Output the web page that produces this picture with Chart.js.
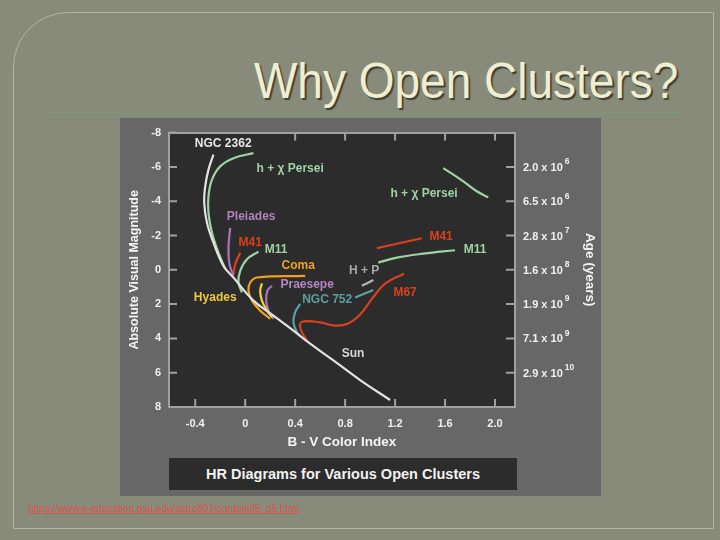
<!DOCTYPE html>
<html>
<head>
<meta charset="utf-8">
<script src="https://cdn.jsdelivr.net/npm/chart.js@4/dist/chart.umd.min.js"></script>
<style>
  body { margin: 0; width: 720px; height: 540px; background: #888b79; position: relative; overflow: hidden;
         font-family: "Liberation Sans", Arial, sans-serif; }
  #frame { position: absolute; left: 13px; top: 12px; width: 701px; height: 517px; box-sizing: border-box;
           border: 1px solid #b3b5a4; border-top-left-radius: 55px; }
  #title { position: absolute; right: 42px; top: 56px; font-size: 50px; line-height: 50px; color: #eeefd0;
           text-shadow: 2px 2px 1px #3f3f36; transform: scaleX(0.92); transform-origin: right center; white-space: nowrap; }
  #rule { position: absolute; left: 46px; top: 112px; width: 634px; height: 2px; background: #7f957a; }
  #panel { position: absolute; left: 120px; top: 118px; width: 481px; height: 378px; background: #676767; }
  #wrap { position: absolute; left: 0; top: 0; width: 480px; height: 378px; }
  #caption { position: absolute; left: 49px; top: 340px; width: 348px; height: 32px; background: #2c2c2c;
             color: #f2f2f2; font-weight: bold; font-size: 14.5px; line-height: 32px; text-align: center; }
  #link { position: absolute; left: 28px; top: 503px; font-size: 10px; color: #d9534f; text-decoration: underline; white-space: nowrap; }
</style>
</head>
<body>
<div id="frame"></div>
<div id="title">Why Open Clusters?</div>
<div id="rule"></div>
<div id="panel">
  <div id="wrap"><canvas id="hr"></canvas></div>
  <div id="caption">HR Diagrams for Various Open Clusters</div>
</div>
<div id="link">https://www.e-education.psu.edu/astro801/content/l5_p5.html</div>
<script>
// tick values / labels
const bvTicks = [-0.4, 0, 0.4, 0.8, 1.2, 1.6, 2.0];
const bvTickLabels = ["-0.4", "0", "0.4", "0.8", "1.2", "1.6", "2.0"];
const topTicks = [0.4, 0.8, 1.2, 1.6, 2.0];
const magTicks = [-8, -6, -4, -2, 0, 2, 4, 6, 8];
const ageTickMags = [-6, -4, -2, 0, 2, 4, 6];
const ageMant = ["2.0", "6.5", "2.8", "1.6", "1.9", "7.1", "2.9"];
const ageExp = ["6", "6", "7", "8", "9", "9", "10"];

// curves, [B-V, Mv]
const zams = [[-0.254,-6.71],[-0.294,-5.84],[-0.32,-4.87],[-0.328,-3.9],[-0.306,-2.74],[-0.254,-1.58],
  [-0.174,-0.23],[-0.094,0.45],[0.066,1.8],[0.226,2.67],[0.386,3.54],[0.52,4.31],[0.706,5.28],[0.92,6.43],[1.16,7.59]];
const persei = [[0.066,-6.8],[-0.094,-6.51],[-0.2,-6.03],[-0.266,-5.26],[-0.294,-4.29],[-0.294,-3.32],
  [-0.266,-2.16],[-0.214,-1.0],[-0.16,-0.06]];
const perseiGiants = [[1.586,-5.93],[1.746,-5.16],[1.854,-4.58],[1.946,-4.23]];
const pleiades = [[-0.12,-2.45],[-0.134,-1.29],[-0.126,-0.33],[-0.094,0.35]];
const m41 = [[-0.04,-1.0],[-0.08,-0.33],[-0.094,0.25]];
const m41Giants = [[1.054,-1.26],[1.214,-1.52],[1.414,-1.84]];
const m11 = [[0.106,-1.06],[0.014,-0.62],[-0.04,0.06],[-0.054,0.74],[-0.026,1.32]];
const m11Giants = [[1.066,-0.42],[1.214,-0.71],[1.426,-0.94],[1.68,-1.14]];
const coma = [[0.48,0.35],[0.094,0.45],[0.04,0.74],[0.026,1.22],[0.054,1.8],[0.12,2.38],[0.2,2.86]];
const hyades = [[0.134,0.79],[0.12,1.22],[0.134,1.8],[0.174,2.38],[0.214,2.77]];
const praesepe = [[0.214,0.93],[0.178,1.22],[0.168,1.8],[0.186,2.38],[0.226,2.86]];
const ngc752 = [[0.44,1.99],[0.4,2.48],[0.386,3.06],[0.414,3.63],[0.44,3.88]];
const ngc752Giants = [[0.88,1.61],[1.026,1.18]];
const hpGiants = [[0.934,0.93],[1.026,0.6]];
const m67 = [[0.494,4.12],[0.454,3.63],[0.44,3.15],[0.48,3.0],[0.6,3.07],[0.72,3.25],[0.824,3.13],
  [0.92,2.61],[1.016,1.68],[1.12,0.81],[1.272,0.23]];

const WHITE = "#e2e2e2", GREEN = "#9fd3a3", PURPLE = "#a676b9", RED = "#d9411e",
      ORANGE = "#f0a21e", YELLOW = "#f3d13a", TEAL = "#5c9fa3", GRAY = "#b5b5b5";

// label anchors (B-V, Mv)
const labels = [
  ["NGC 2362", -0.176, -7.36, "#e6e6e6"],
  ["h + \u03c7 Persei", 0.36, -5.91, GREEN],
  ["h + \u03c7 Persei", 1.432, -4.41, GREEN],
  ["Pleiades", 0.048, -3.07, "#ad82bf"],
  ["M41", 0.04, -1.57, RED],
  ["M11", 0.248, -1.16, GREEN],
  ["Coma", 0.424, -0.23, ORANGE],
  ["Praesepe", 0.496, 0.87, "#b387c6"],
  ["Hyades", -0.24, 1.62, "#eccb3a"],
  ["NGC 752", 0.656, 1.74, TEAL],
  ["H + P", 0.952, 0.06, "#a9a9a9"],
  ["M67", 1.28, 1.33, RED],
  ["M41", 1.568, -1.91, RED],
  ["M11", 1.84, -1.16, GREEN],
  ["Sun", 0.864, 4.87, "#d8d8d8"]
];

const FONT = "'Liberation Sans', Arial, sans-serif";
const AXIS = "#a0a0a0";

function curve(pts, color) {
  return {
    data: pts.map(p => ({ x: p[0], y: p[1] })),
    borderColor: color, borderWidth: 2.2, pointRadius: 0, showLine: true,
    tension: 0.4, fill: false
  };
}

const frame = {
  id: "frame",
  beforeDraw(chart) {
    const { ctx, chartArea: a } = chart;
    ctx.save();
    ctx.fillStyle = "#2c2c2c";
    ctx.fillRect(a.left, a.top, a.right - a.left, a.bottom - a.top);
    ctx.restore();
  },
  afterDraw(chart) {
    const { ctx, chartArea: a, scales } = chart;
    ctx.save();
    // inward tick marks
    ctx.strokeStyle = AXIS;
    ctx.lineWidth = 2;
    ctx.beginPath();
    bvTicks.forEach(v => {
      const x = scales.x.getPixelForValue(v);
      ctx.moveTo(x, a.bottom); ctx.lineTo(x, a.bottom - 8);
    });
    topTicks.forEach(v => {
      const x = scales.x.getPixelForValue(v);
      ctx.moveTo(x, a.top); ctx.lineTo(x, a.top + 8);
    });
    magTicks.forEach(m => {
      const y = scales.y.getPixelForValue(m);
      ctx.moveTo(a.left, y); ctx.lineTo(a.left + 8, y);
    });
    ageTickMags.forEach(m => {
      const y = scales.age.getPixelForValue(m);
      ctx.moveTo(a.right, y); ctx.lineTo(a.right - 9, y);
    });
    ctx.stroke();

    // cluster names
    ctx.font = "bold 12px " + FONT;
    ctx.textAlign = "center";
    ctx.textBaseline = "middle";
    labels.forEach(([t, bv, mag, c]) => {
      ctx.fillStyle = c;
      ctx.fillText(t, scales.x.getPixelForValue(bv), scales.y.getPixelForValue(mag));
    });

    // age labels with exponents
    ctx.textAlign = "left";
    ctx.fillStyle = "#f0f0f0";
    ageTickMags.forEach((m, i) => {
      const y = scales.age.getPixelForValue(m);
      const x = a.right + 8;
      ctx.font = "bold 11px " + FONT;
      const base = ageMant[i] + " x 10";
      ctx.fillText(base, x, y + 1);
      const w = ctx.measureText(base).width;
      ctx.font = "bold 8.5px " + FONT;
      ctx.fillText(ageExp[i], x + w + 2, y - 5);
    });
    ctx.restore();
  }
};

new Chart(document.getElementById("hr"), {
  type: "scatter",
  data: {
    datasets: [
      curve(zams, WHITE), curve(persei, GREEN), curve(perseiGiants, GREEN),
      curve(pleiades, PURPLE), curve(m41, RED), curve(m41Giants, RED),
      curve(m11, GREEN), curve(m11Giants, GREEN), curve(coma, ORANGE),
      curve(hyades, YELLOW), curve(praesepe, PURPLE), curve(ngc752, TEAL),
      curve(ngc752Giants, TEAL), curve(hpGiants, GRAY), curve(m67, RED)
    ]
  },
  options: {
    responsive: true,
    maintainAspectRatio: false,
    animation: false,
    events: [],
    layout: { padding: { left: 0, right: 0, top: 0, bottom: 44 } },
    plugins: { legend: { display: false }, tooltip: { enabled: false } },
    scales: {
      x: {
        type: "linear", position: "bottom", min: -0.61, max: 2.16,
        afterBuildTicks: s => { s.ticks = bvTicks.map(v => ({ value: v })); },
        afterFit: s => { s.height = 45; },
        ticks: {
          callback: (v, i) => bvTickLabels[i], color: "#f0f0f0", padding: 10,
          autoSkip: false, maxRotation: 0, font: { family: FONT, size: 11, weight: "bold" }
        },
        grid: { display: false, drawTicks: false },
        border: { display: true, color: AXIS, width: 2 },
        title: {
          display: true, text: "B - V Color Index", color: "#f4f4f4",
          font: { family: FONT, size: 13.5, weight: "bold" }, padding: { top: 0, bottom: 2 }
        }
      },
      xTop: {
        type: "linear", position: "top", min: -0.61, max: 2.16,
        afterBuildTicks: s => { s.ticks = topTicks.map(v => ({ value: v })); },
        afterFit: s => { s.height = 13; },
        ticks: { display: false },
        grid: { display: false, drawTicks: false },
        border: { display: true, color: AXIS, width: 2 }
      },
      y: {
        type: "linear", position: "left", reverse: true, min: -8, max: 8,
        afterBuildTicks: s => { s.ticks = magTicks.map(v => ({ value: v })); },
        afterFit: s => { s.width = 49; },
        ticks: { color: "#f0f0f0", padding: 8, font: { family: FONT, size: 11, weight: "bold" } },
        grid: { display: false, drawTicks: false },
        border: { display: true, color: AXIS, width: 2 },
        title: {
          display: true, text: "Absolute Visual Magnitude", color: "#f4f4f4",
          font: { family: FONT, size: 12.5, weight: "bold" }, padding: { top: 7, bottom: 0 }
        }
      },
      age: {
        type: "linear", position: "right", reverse: true, min: -8, max: 8,
        afterBuildTicks: s => { s.ticks = ageTickMags.map(v => ({ value: v })); },
        afterFit: s => { s.width = 85; },
        ticks: { display: false },
        grid: { display: false, drawTicks: false },
        border: { display: true, color: AXIS, width: 2 },
        title: {
          display: true, text: "Age (years)", color: "#f4f4f4",
          font: { family: FONT, size: 13.5, weight: "bold" }, padding: { top: 2, bottom: 0 }
        }
      }
    }
  },
  plugins: [frame]
});
</script>
</body>
</html>
